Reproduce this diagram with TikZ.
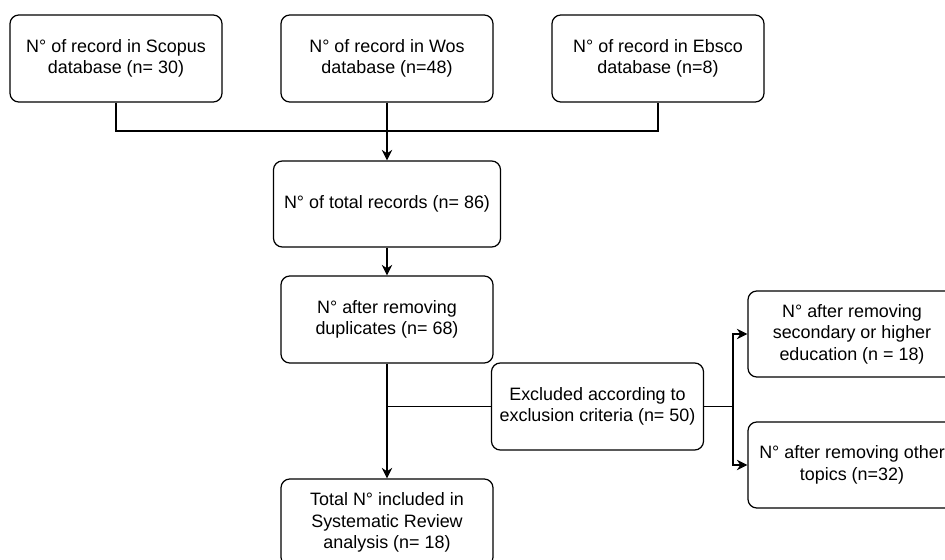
\documentclass[tikz,border=0pt]{standalone}
\usepackage{fontspec}
\setmainfont{Liberation Sans}
\usetikzlibrary{arrows.meta}

\begin{document}
\begin{tikzpicture}[
        box/.style={draw=black, line width=0.7pt, rounded corners=5pt, align=center,
                minimum width=4.24cm, minimum height=1.74cm, inner sep=2pt,
                font=\fontsize{10.2}{12.3}\selectfont},
        link/.style={line width=0.6pt},
        arr/.style={link, -{Stealth[length=6pt,width=6pt]}}
    ]
        \useasboundingbox (0, 0) rectangle (18.9, 11.2);
        \clip (0, 0) rectangle (18.9, 11.2);

        \node[box] (scopus) at (2.32, 10.03) {N° of record in Scopus\\database (n= 30)};
        \node[box] (wos) at (7.74, 10.03) {N° of record in Wos\\database (n=48)};
        \node[box] (ebsco) at (13.16, 10.03) {N° of record in Ebsco\\database (n=8)};

        \node[box, minimum width=4.54cm, minimum height=1.72cm] (total) at (7.74, 7.12) {N° of total records (n= 86)};
        \node[box] (dup) at (7.74, 4.81) {N° after removing\\duplicates (n= 68)};
        \node[box] (excl) at (11.95, 3.07) {Excluded according to\\exclusion criteria (n= 50)};
        \node[box, minimum width=4.16cm, minimum height=1.72cm] (sec) at (17.04, 4.52) {N° after removing\\secondary or higher\\education (n = 18)};
        \node[box, minimum width=4.16cm, minimum height=1.72cm] (other) at (17.04, 1.90) {N° after removing other\\topics (n=32)};
        \node[box] (final) at (7.74, 0.75) {Total N° included in\\Systematic Review\\analysis (n= 18)};

        \coordinate (merge) at (7.74, 8.58);
        \coordinate (split) at (14.66, 3.07);

        \draw[link] (scopus.south) |- (merge) -| (ebsco.south);
        \draw[arr] (wos.south) -- (total.north);
        \draw[arr] (total.south) -- (dup.north);
        \draw[arr] (dup.south) -- (final.north);
        \draw[link] (excl.west) -- (excl.west -| dup.south);
        \draw[link] (excl.east) -- (split);
        \draw[arr] (split) |- (sec.west);
        \draw[arr] (split) |- (other.west);
    \end{tikzpicture}
\end{document}
